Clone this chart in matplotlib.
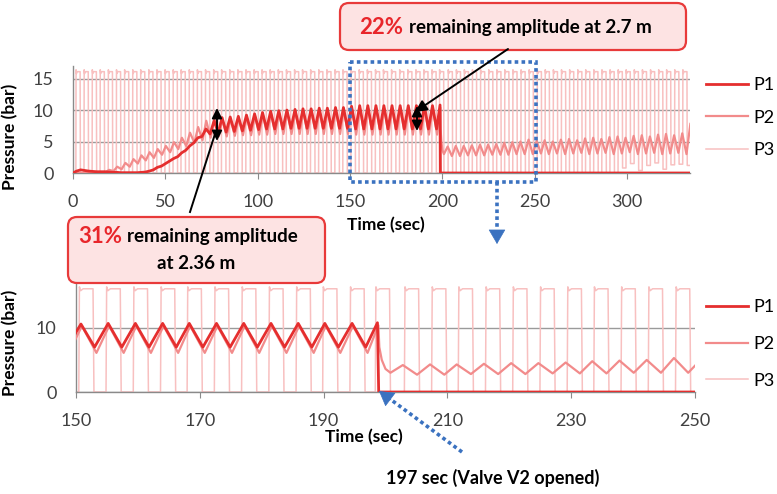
import matplotlib
matplotlib.use("Agg")
import matplotlib.pyplot as plt
from matplotlib.patches import FancyBboxPatch, Rectangle, FancyArrowPatch, ArrowStyle
from matplotlib.lines import Line2D
from matplotlib.transforms import Affine2D

plt.rcParams['font.family'] = ['Lato', 'DejaVu Sans']

# ---------------- data ----------------
# time of each pump cycle (sec)
cycle_t = [1.9, 6.3, 10.7, 15.0, 19.4, 23.8, 28.2, 32.6, 36.9, 41.3,
           45.7, 50.1, 54.5, 58.8, 63.2, 67.6, 72.0, 76.4, 80.7, 85.1,
           89.5, 93.9, 98.3, 102.6, 107.0, 111.4, 115.8, 120.2, 124.5, 128.9,
           133.3, 137.7, 142.1, 146.4, 150.8, 155.2, 159.6, 164.0, 168.3, 172.7,
           177.1, 181.5, 185.9, 190.2, 194.6, 198.7, 203.4, 207.8, 212.1, 216.5,
           220.9, 225.3, 229.7, 234.0, 238.4, 242.8, 247.2, 251.6, 255.9, 260.3,
           264.7, 269.1, 273.5, 277.8, 282.2, 286.6, 291.0, 295.4, 299.7, 304.1,
           308.5, 312.9, 317.3, 321.6, 326.0, 330.4, 334.8]
valve_open_t = 198.9
t_end = 340.0

# P1 (bar): peak and trough of each cycle until the valve opens
p1_peak = [0.3, 0.4, 0.25, 0.2, 0.15, 0.1, 0.05, 0.05, 0.1, 0.3,
           0.9, 1.5, 2.3, 3.2, 4.3, 5.6, 7.0, 8.3, 8.8, 8.9,
           9.0, 9.2, 9.4, 9.6, 9.8, 9.9, 10.0, 10.1, 10.2, 10.2,
           10.3, 10.3, 10.4, 10.4, 10.6, 10.7, 10.7, 10.7, 10.7, 10.7,
           10.7, 10.7, 10.7, 10.7, 10.7, 10.8]
p1_trough = [0.5, 0.3, 0.2, 0.2, 0.1, 0.05, 0.05, 0.05, 0.15, 0.5,
             1.1, 1.9, 2.6, 3.6, 4.8, 5.8, 6.2, 6.4, 6.5, 6.6,
             6.7, 6.8, 6.9, 7.0, 7.0, 7.0, 7.1, 7.1, 7.1, 7.1,
             7.1, 7.1, 7.1, 7.1, 7.0, 7.0, 7.0, 7.0, 7.0, 7.0,
             7.0, 7.0, 7.0, 7.0, 7.0]

# P2 (bar): peak of each cycle, troughs before / after the valve opens
p2_peak = [0.0, 0.0, 0.0, 0.1, 0.5, 1.0, 1.6, 2.2, 2.8, 3.3,
           3.8, 4.3, 4.9, 5.6, 6.4, 7.3, 8.3, 8.6, 8.5, 8.6,
           8.7, 8.9, 9.1, 9.3, 9.5, 9.6, 9.7, 9.8, 9.9, 9.9,
           10.0, 10.0, 10.0, 10.1, 10.3, 10.3, 10.3, 10.3, 10.3, 10.3,
           10.3, 10.3, 10.3, 10.3, 10.3, 10.4, 4.2, 4.3, 4.3, 4.4,
           4.5, 4.5, 4.6, 4.8, 4.9, 5.0, 5.3, 5.1, 5.2, 5.0,
           5.3, 5.4, 5.2, 5.5, 5.6, 5.4, 5.7, 5.8, 5.6, 5.9,
           6.0, 5.8, 6.1, 6.2, 6.0, 6.3, 7.8]
p2_trough_before = [0.0, 0.0, 0.0, 0.1, 0.3, 0.6, 1.0, 1.5, 2.0, 2.4,
                    2.9, 3.3, 3.8, 4.3, 4.8, 5.2, 5.6, 5.8, 5.8, 5.9,
                    6.0, 6.0, 6.1, 6.1, 6.2, 6.2, 6.2, 6.2, 6.2, 6.2,
                    6.2, 6.2, 6.2, 6.2, 6.1, 6.1, 6.1, 6.1, 6.1, 6.1,
                    6.1, 6.1, 6.1, 6.1, 6.1]
p2_transient_t = [199.0, 199.4, 200.0, 200.8]
p2_transient_v = [7.0, 5.0, 3.6, 3.0]
p2_trough_after = [2.7, 2.7, 2.8, 2.8, 2.8, 2.9, 2.9, 2.9, 3.0, 3.0,
                   3.0, 3.1, 3.0, 3.1, 3.0, 3.1, 3.2, 3.0, 3.1, 3.2,
                   3.0, 3.1, 3.3, 3.0, 3.1, 3.2, 3.0, 3.1, 3.2, 3.0]

# P3 (bar): pulse levels and the low level after each pulse
p3_stem, p3_arch, p3_top = 16.4, 15.8, 16.1
p3_low = [0, 0, 0, 0, 0, 0, 0, 0, 0, 0,
          0, 0, 0, 0, 0, 0, 0, 0, 0, 0,
          0, 0, 0, 0, 0, 0, 0, 0, 0, 0,
          0, 0, 0, 0, 0, 0, 0, 0, 0, 0,
          0, 0, 0, 0, 0, 0, 0, 0, 0, 0,
          0, 0, 0, 0, 0, 0, 0, 0, 0, 0,
          0, 0, 0, 0, 0, 0, 0, 0.8, 1.5, 0.4,
          1.2, 1.6, 0.6, 1.3, 1.4, 1.2, 0.8]

top_xticks = [0, 50, 100, 150, 200, 250, 300]
top_yticks = [0, 5, 10, 15]
bot_xticks = [150, 170, 190, 210, 230, 250]
bot_yticks = [0, 10]

# ---------------- build the series vertices ----------------
p1_t, p1_v = [0.0], [0.0]
for k in range(len(p1_peak)):
    p1_t.append(cycle_t[k]); p1_v.append(p1_peak[k])
    if k < len(p1_trough):
        p1_t.append(cycle_t[k] + 2.2); p1_v.append(p1_trough[k])
p1_t += [valve_open_t, t_end]
p1_v += [0.0, 0.0]

p2_t, p2_v = [0.0], [0.0]
nb = len(p2_trough_before)
for k in range(nb + 1):
    p2_t.append(cycle_t[k] + 0.15); p2_v.append(p2_peak[k])
    if k < nb:
        p2_t.append(cycle_t[k] + 2.5); p2_v.append(p2_trough_before[k])
p2_t += p2_transient_t
p2_v += p2_transient_v
for j, k in enumerate(range(nb + 1, len(cycle_t))):
    p2_t.append(cycle_t[k] - 0.6); p2_v.append(p2_peak[k])
    if j < len(p2_trough_after):
        p2_t.append(cycle_t[k] + 1.7); p2_v.append(p2_trough_after[j])

p3_t, p3_v = [0.0], [p3_low[0]]
for k, tk in enumerate(cycle_t):
    r = tk - 0.35
    prev = p3_low[k - 1] if k else p3_low[0]
    p3_t += [r, r + 0.1, r + 0.3, r + 0.7, r + 2.3, r + 2.45]
    p3_v += [prev, p3_stem, p3_arch, p3_top, p3_top, p3_low[k]]

# ---------------- figure ----------------
W, H = 777, 494
fig = plt.figure(figsize=(W / 100, H / 100), dpi=100)
pix = Affine2D().scale(1 / W, -1 / H).translate(0, 1) + fig.transFigure

C1, C2, C3 = '#e52e2e', '#f28b8b', '#f8c0c0'
GRID = '#9a9a9a'
SP = '#8a8a8a'
TICKC = '#404040'

def style(ax, xticks, yticks, xlim, ylim):
    ax.set_xlim(*xlim); ax.set_ylim(*ylim)
    ax.set_xticks(xticks); ax.set_yticks(yticks)
    for s in ['top', 'right']:
        ax.spines[s].set_visible(False)
    for s in ['left', 'bottom']:
        ax.spines[s].set_color(SP)
        ax.spines[s].set_linewidth(1.0)
    ax.grid(axis='y', color=GRID, lw=1.0)
    ax.set_axisbelow(True)
    ax.tick_params(axis='x', direction='out', length=4, color=SP, pad=11,
                   labelsize=13, labelcolor=TICKC)
    ax.tick_params(axis='y', length=0, pad=14, labelsize=13, labelcolor=TICKC)

def draw(ax):
    ax.plot(p3_t, p3_v, color=C3, lw=1.1, label='P3', zorder=2)
    ax.plot(p2_t, p2_v, color=C2, lw=1.6, label='P2', zorder=3)
    ax.plot(p1_t, p1_v, color=C1, lw=2.0, label='P1', zorder=4)

ax1 = fig.add_axes([73 / W, 1 - 173 / H, (690 - 73) / W, (173 - 66) / H])
ax2 = fig.add_axes([76 / W, 1 - 392 / H, (695 - 76) / W, (392 - 283) / H])
for ax, xt, yt, xl in [(ax1, top_xticks, top_yticks, (0, 334)),
                       (ax2, bot_xticks, bot_yticks, (150, 250))]:
    draw(ax)
    style(ax, xt, yt, xl, (0, 17))
    ax.set_ylabel('Pressure (bar)', fontsize=12.5, fontweight='bold')
    ax.set_xlabel('Time (sec)', fontsize=12.5, fontweight='bold')

ax1.yaxis.set_label_coords((18 - 73) / 617, (173 - 137) / 107)
ax1.xaxis.set_label_coords((386 - 73) / 617, -(217 - 173) / 107)
ax2.yaxis.set_label_coords((18 - 76) / 619, (392 - 343) / 109)
ax2.xaxis.set_label_coords((364 - 76) / 619, -(429 - 392) / 109)

for ax, cy, sp in [(ax1, 117.5, 0.92), (ax2, 344, 1.14)]:
    h, l = ax.get_legend_handles_labels()
    order = [2, 1, 0]
    ax.legend([h[i] for i in order], [l[i] for i in order],
              loc='center left', bbox_to_anchor=(706 / W, 1 - cy / H),
              bbox_transform=fig.transFigure, frameon=False, fontsize=13,
              handlelength=2.3, handletextpad=0.3, labelspacing=sp,
              borderpad=0, borderaxespad=0)

# ---------------- annotations ----------------
BOX_FC, BOX_EC = '#fde3e3', '#e83a3a'
fig.add_artist(FancyBboxPatch((340, 3), 346, 47,
                              boxstyle='round,pad=0,rounding_size=9',
                              transform=pix, fc=BOX_FC, ec=BOX_EC, lw=1.6, zorder=10))
fig.text(403, 27, '22%', transform=pix, ha='right', va='center', color='#e8262b',
         fontsize=16, fontweight='bold', zorder=11)
fig.text(409, 27, 'remaining amplitude at 2.7 m', transform=pix, ha='left',
         va='center', color='black', fontsize=13.5, fontweight='bold', zorder=11)

fig.add_artist(FancyBboxPatch((68, 217), 257, 66,
                              boxstyle='round,pad=0,rounding_size=9',
                              transform=pix, fc=BOX_FC, ec=BOX_EC, lw=1.6, zorder=10))
fig.text(122, 236, '31%', transform=pix, ha='right', va='center', color='#e8262b',
         fontsize=16, fontweight='bold', zorder=11)
fig.text(127, 236, 'remaining amplitude', transform=pix, ha='left',
         va='center', color='black', fontsize=13.5, fontweight='bold', zorder=11)
fig.text(196, 263, 'at 2.36 m', transform=pix, ha='center',
         va='center', color='black', fontsize=13.5, fontweight='bold', zorder=11)

head_small = ArrowStyle('-|>', head_length=0.5, head_width=0.25)
dbl = ArrowStyle('<|-|>', head_length=0.5, head_width=0.25)
fig.add_artist(FancyArrowPatch((508, 49), (415, 112), transform=pix,
                               arrowstyle=head_small, mutation_scale=14,
                               color='black', lw=1.4, zorder=12,
                               shrinkA=0, shrinkB=0))
fig.add_artist(FancyArrowPatch((417, 106), (417, 131), transform=pix,
                               arrowstyle=dbl, mutation_scale=12,
                               color='black', lw=1.4, zorder=12,
                               shrinkA=0, shrinkB=0))
fig.add_artist(Line2D([190, 215], [212, 134], transform=pix, color='black',
                      lw=1.4, zorder=12))
fig.add_artist(FancyArrowPatch((217, 108), (217, 141), transform=pix,
                               arrowstyle=dbl, mutation_scale=12,
                               color='black', lw=1.4, zorder=12,
                               shrinkA=0, shrinkB=0))

BLUE = '#3b72c0'
dots = (0, (1.0, 0.9))
fig.add_artist(Rectangle((350, 62), 186, 120, transform=pix, fill=False,
                         ec=BLUE, lw=2.6, ls=dots, zorder=9))
fig.add_artist(Line2D([497, 497], [182, 233], transform=pix, color=BLUE,
                      lw=2.6, ls=dots, zorder=9))
fig.add_artist(FancyArrowPatch((497, 231), (497, 244), transform=pix,
                               arrowstyle=ArrowStyle('-|>', head_length=0.6, head_width=0.35),
                               mutation_scale=16, color=BLUE, lw=0.5, zorder=9,
                               shrinkA=0, shrinkB=0))
fig.add_artist(Line2D([462, 390], [452, 399], transform=pix, color=BLUE,
                      lw=2.6, ls=dots, zorder=9))
fig.add_artist(FancyArrowPatch((391, 400), (379, 391), transform=pix,
                               arrowstyle=ArrowStyle('-|>', head_length=0.6, head_width=0.35),
                               mutation_scale=16, color=BLUE, lw=0.5, zorder=9,
                               shrinkA=0, shrinkB=0))
fig.text(493, 478, '197 sec (Valve V2 opened)', transform=pix, ha='center',
         va='center', color='black', fontsize=13, fontweight='bold')

fig.savefig('out.png', dpi=100)
